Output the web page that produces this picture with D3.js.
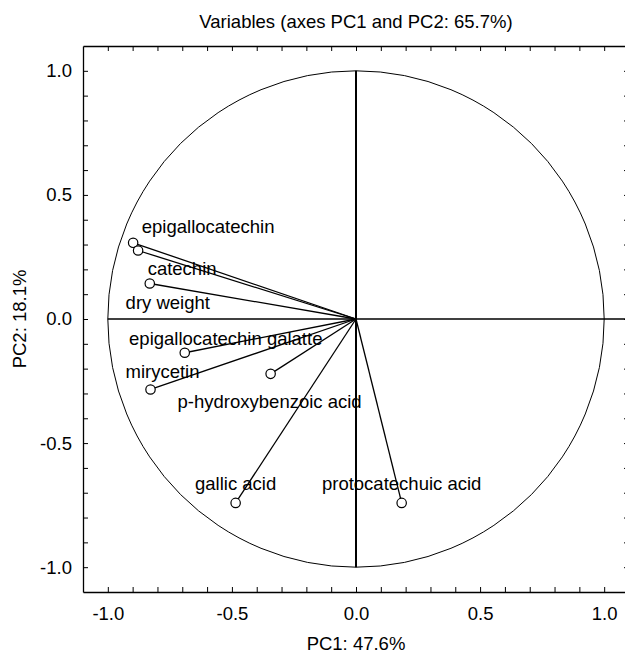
<!DOCTYPE html>
<html>
<head>
<meta charset="utf-8">
<script src="https://cdn.jsdelivr.net/npm/d3@7"></script>
<style>
  body { margin: 0; background: #fff; }
  text { font-family: "Liberation Sans", Arial, sans-serif; fill: #000; }
</style>
</head>
<body>
<div id="chart-area"></div>
<script>
// loadings of each variable on the first two components
const variables = ["epigallocatechin", "catechin", "dry weight", "epigallocatechin galatte",
                   "mirycetin", "p-hydroxybenzoic acid", "gallic acid", "protocatechuic acid"]
const pc1 = [-0.898, -0.878, -0.831, -0.690, -0.828, -0.344, -0.485, 0.184]
const pc2 = [0.307, 0.276, 0.143, -0.136, -0.284, -0.221, -0.741, -0.741]
const tickValues = [-1.0, -0.5, 0.0, 0.5, 1.0]

const WIDTH = 625
const HEIGHT = 653
const MARGIN = {LEFT: 83, TOP: 46}
const SIZE = 546
const FONT = "18.5px"

// label nudges in px (label centre / baseline relative to the point)
const labelShift = {
  "epigallocatechin": [75, -10],
  "catechin": [44, 24],
  "dry weight": [18, 25],
  "epigallocatechin galatte": [41, -8],
  "mirycetin": [12, -11],
  "p-hydroxybenzoic acid": [-1, 34],
  "gallic acid": [0, -13],
  "protocatechuic acid": [0, -13]
}

const data = variables.map((name, i) => ({name: name, x: pc1[i], y: pc2[i]}))

const svg = d3.select("#chart-area").append("svg")
    .attr("width", WIDTH)
    .attr("height", HEIGHT)

const x = d3.scaleLinear().domain([-1.1, 1.1]).range([MARGIN.LEFT, MARGIN.LEFT + SIZE])
const y = d3.scaleLinear().domain([-1.1, 1.1]).range([MARGIN.TOP + SIZE, MARGIN.TOP])

const minor = d3.range(-10, 11).map(i => i / 10)
const fmt = d => tickValues.some(t => Math.abs(t - d) < 1e-9) ? d3.format(".1f")(d).replace("\u2212", "-") : ""

// title
svg.append("text")
    .attr("x", x(0))
    .attr("y", 28)
    .attr("font-size", FONT)
    .attr("text-anchor", "middle")
    .text("Variables (axes PC1 and PC2: 65.7%)")

// axes
svg.append("g")
    .attr("transform", `translate(0, ${y(-1.1)})`)
    .call(d3.axisBottom(x).tickValues(minor).tickFormat(fmt).tickSizeInner(-5).tickSizeOuter(0).tickPadding(15))
svg.append("g")
    .attr("transform", `translate(0, ${y(1.1)})`)
    .call(d3.axisTop(x).tickValues(minor).tickFormat("").tickSizeInner(-5).tickSizeOuter(0))
svg.append("g")
    .attr("transform", `translate(${x(-1.1)}, 0)`)
    .call(d3.axisLeft(y).tickValues(minor).tickFormat(fmt).tickSizeInner(-5).tickSizeOuter(0).tickPadding(11))
svg.append("g")
    .attr("transform", `translate(${x(1.1)}, 0)`)
    .call(d3.axisRight(y).tickValues(minor).tickFormat("").tickSizeInner(-5).tickSizeOuter(0))

svg.selectAll(".domain").attr("stroke", "#000").attr("stroke-width", 1.3)
svg.selectAll(".tick line").attr("stroke", "#000")
svg.selectAll(".tick text")
    .attr("font-size", FONT)
    .attr("font-family", "Liberation Sans, Arial, sans-serif")

// axis labels
svg.append("text")
    .attr("x", x(0))
    .attr("y", 650)
    .attr("font-size", FONT)
    .attr("text-anchor", "middle")
    .text("PC1: 47.6%")

svg.append("text")
    .attr("transform", `translate(26, ${y(0)}) rotate(-90)`)
    .attr("font-size", FONT)
    .attr("text-anchor", "middle")
    .text("PC2: 18.1%")

// unit circle
svg.append("ellipse")
    .attr("cx", x(0))
    .attr("cy", y(0))
    .attr("rx", x(1) - x(0))
    .attr("ry", y(0) - y(1))
    .attr("fill", "none")
    .attr("stroke", "#000")
    .attr("stroke-width", 1)

// zero lines
svg.append("line")
    .attr("x1", x(-1)).attr("x2", x(1.1))
    .attr("y1", y(0)).attr("y2", y(0))
    .attr("stroke", "#000").attr("stroke-width", 1.5)
svg.append("line")
    .attr("x1", x(0)).attr("x2", x(0))
    .attr("y1", y(1)).attr("y2", y(-1))
    .attr("stroke", "#000").attr("stroke-width", 2)

// vectors
svg.selectAll(".vec").data(data).enter().append("line")
    .attr("class", "vec")
    .attr("x1", x(0)).attr("y1", y(0))
    .attr("x2", d => x(d.x)).attr("y2", d => y(d.y))
    .attr("stroke", "#000").attr("stroke-width", 1.3)

svg.selectAll(".pt").data(data).enter().append("circle")
    .attr("class", "pt")
    .attr("cx", d => x(d.x)).attr("cy", d => y(d.y))
    .attr("r", 4.7)
    .attr("fill", "#fff")
    .attr("stroke", "#000").attr("stroke-width", 1.2)

svg.selectAll(".lbl").data(data).enter().append("text")
    .attr("class", "lbl")
    .attr("x", d => x(d.x) + labelShift[d.name][0])
    .attr("y", d => y(d.y) + labelShift[d.name][1])
    .attr("font-size", FONT)
    .attr("text-anchor", "middle")
    .attr("fill", "#222")
    .text(d => d.name)
</script>
</body>
</html>
